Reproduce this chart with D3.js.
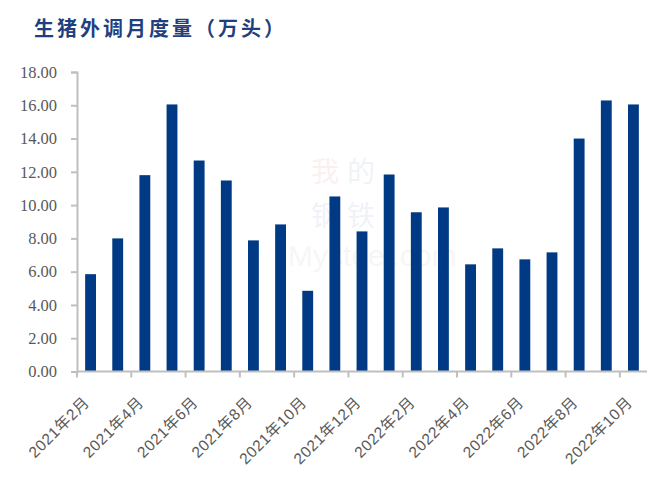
<!DOCTYPE html>
<html><head><meta charset="utf-8">
<script src="https://cdn.jsdelivr.net/npm/d3@7/dist/d3.min.js"></script>
<style>body{margin:0;background:#fff}svg{display:block}</style>
</head><body>
<script>
const months = ["2021年2月","2021年3月","2021年4月","2021年5月","2021年6月","2021年7月","2021年8月","2021年9月","2021年10月","2021年11月","2021年12月","2022年1月","2022年2月","2022年3月","2022年4月","2022年5月","2022年6月","2022年7月","2022年8月","2022年9月","2022年10月"];
const values = [5.85,8.0,11.8,16.05,12.68,11.48,7.88,8.84,4.85,10.52,8.42,11.84,9.57,9.86,6.44,7.4,6.74,7.16,14.0,16.29,16.05];
const yTicks = [0,2,4,6,8,10,12,14,16,18];
const title = "生猪外调月度量（万头）";

const W = 671, H = 480;
const svg = d3.select("body").append("svg").attr("width", W).attr("height", H);

const x = d3.scaleBand().domain(months).range([77, 647]).paddingInner(0).paddingOuter(0);
const y = d3.scaleLinear().domain([0, 18]).range([371.5, 72]);

// faint watermark
const wm = svg.append("g").attr("opacity", 0.06).attr("font-size", 28);
wm.append("text").attr("x", 311).attr("y", 182).attr("font-family", "Noto Sans CJK SC").attr("fill", "#c00").text("我");
wm.append("text").attr("x", 347).attr("y", 182).attr("font-family", "Noto Sans CJK SC").attr("fill", "#003a84").text("的");
wm.append("text").attr("x", 311).attr("y", 226).attr("font-family", "Noto Sans CJK SC").attr("fill", "#003a84").text("钢");
wm.append("text").attr("x", 347).attr("y", 226).attr("font-family", "Noto Sans CJK SC").attr("fill", "#003a84").text("铁");
wm.append("text").attr("x", 288).attr("y", 266).attr("font-family", "Liberation Sans").attr("font-size", 30).attr("fill", "#777").text("Mysteel.com");

// title
svg.append("text").attr("x", 34).attr("y", 36)
  .attr("font-family", "Noto Sans CJK SC").attr("font-weight", "bold")
  .attr("font-size", 20).attr("letter-spacing", 3).attr("fill", "#1f3f7f").text(title);

// bars
svg.append("g").selectAll("rect").data(values).join("rect")
  .attr("x", (d, i) => x(months[i]) + x.bandwidth() * 0.3)
  .attr("width", x.bandwidth() * 0.4)
  .attr("y", d => y(d))
  .attr("height", d => y(0) - y(d))
  .attr("fill", "#003a84");

// y axis
const yAxis = d3.axisLeft(y).tickValues(yTicks).tickSize(6).tickFormat(d3.format(".2f"));
const gy = svg.append("g").attr("transform", "translate(77,0)").call(yAxis);
gy.select(".domain").attr("stroke", "#bfbfbf").attr("stroke-width", 2);
gy.selectAll(".tick line").attr("stroke", "#bfbfbf").attr("stroke-width", 2);
gy.selectAll(".tick text").attr("font-family", "Liberation Serif").attr("font-size", 16.5)
  .attr("fill", "#595959").attr("x", -20);

// x axis
const gx = svg.append("g").attr("transform", `translate(0,${y(0)})`);
gx.append("line").attr("x1", 77).attr("x2", 647).attr("stroke", "#bfbfbf").attr("stroke-width", 2);
const tickMonths = months.filter((m, i) => i % 2 === 0);
gx.selectAll("line.tk").data(tickMonths).join("line").attr("class", "tk")
  .attr("x1", d => x(d)).attr("x2", d => x(d)).attr("y1", 0).attr("y2", 6)
  .attr("stroke", "#bfbfbf").attr("stroke-width", 2);
gx.selectAll("text").data(tickMonths).join("text")
  .attr("transform", d => `translate(${x(d) + x.bandwidth() / 2 - 4},${28}) rotate(-45)`)
  .attr("text-anchor", "end").attr("dy", "0.35em")
  .attr("font-family", "Liberation Sans, Noto Sans CJK SC").attr("font-size", 15.5)
  .attr("letter-spacing", 0.6)
  .attr("fill", "#595959").text(d => d);
</script>
</body></html>
